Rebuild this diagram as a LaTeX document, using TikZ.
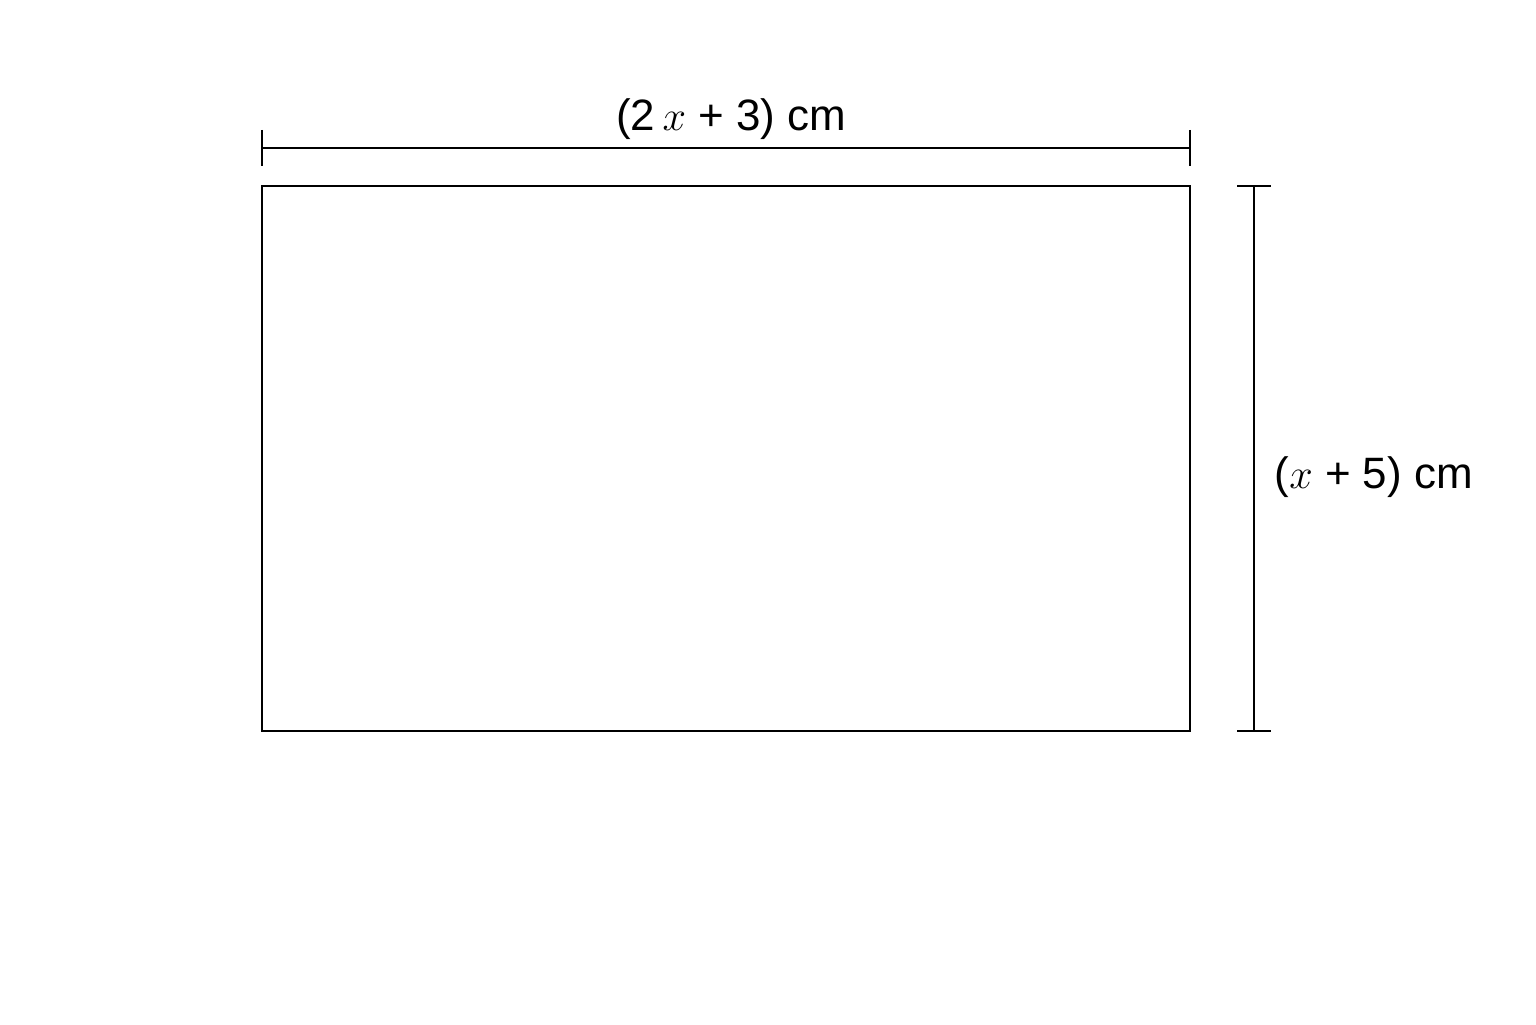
\documentclass[tikz,border=0pt]{standalone}
\usepackage{fontspec}
\setmainfont{Liberation Sans}
\usepackage{tikz}
\usetikzlibrary{calc}
\tikzstyle{dimline}=[line width=0.6pt]

\begin{document}
\begin{tikzpicture}[box/.style={line width=0.65pt},
          dimlabel/.style={font=\fontsize{12.5}{14}\selectfont,inner sep=0pt}]
        \useasboundingbox (0,0) rectangle (15.36,10.24);
        \coordinate (sw) at (2.62,2.93);
        \coordinate (ne) at (11.90,8.38);
        \draw [box] (sw) rectangle (ne);
        % top dimension
        \coordinate (tl) at (2.62,8.76);
        \coordinate (tr) at (11.90,8.76);
        \draw [dimline] (tl) -- (tr);
        \draw [dimline] ($(tl)+(0,0.18)$) -- ($(tl)-(0,0.18)$);
        \draw [dimline] ($(tr)+(0,0.18)$) -- ($(tr)-(0,0.18)$);
        \node [dimlabel] (w) at (7.31,9.05) {(2\,$x$ + 3) cm};
        % right dimension
        \coordinate (rt) at (12.54,8.38);
        \coordinate (rb) at (12.54,2.93);
        \draw [dimline] (rt) -- (rb);
        \draw [dimline] ($(rt)-(0.17,0)$) -- ($(rt)+(0.17,0)$);
        \draw [dimline] ($(rb)-(0.17,0)$) -- ($(rb)+(0.17,0)$);
        \node [dimlabel,anchor=west] (h) at (12.74,5.47) {($x$ + 5) cm};
      \end{tikzpicture}
\end{document}
